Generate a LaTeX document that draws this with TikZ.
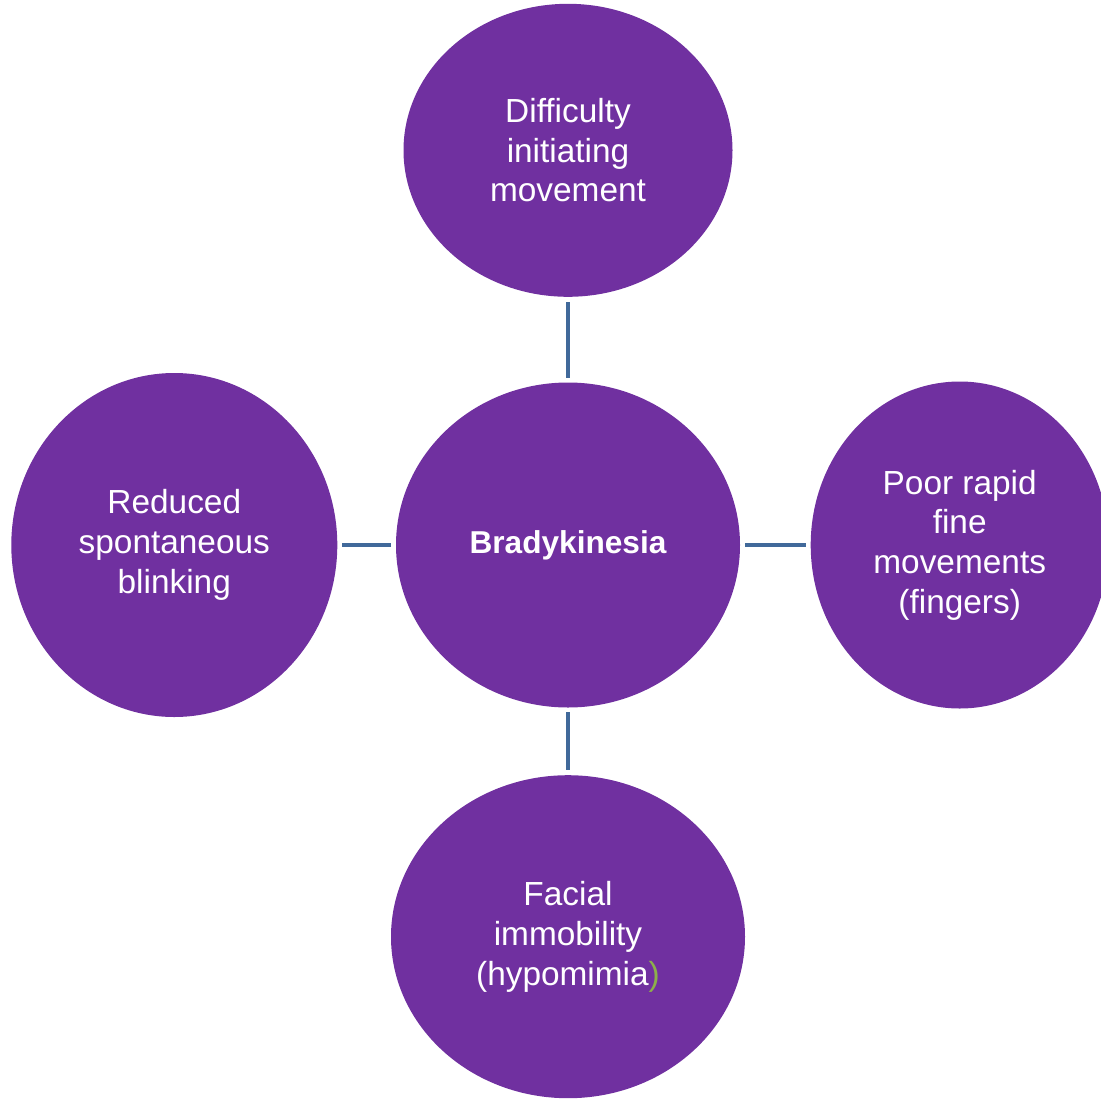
\documentclass[tikz,border=0pt]{standalone}
\usepackage{fontspec}
\setmainfont{Liberation Sans}
\usepackage{tikz}
\usetikzlibrary{shapes.geometric, positioning}

\definecolor{symptom}{HTML}{7030A0}
\definecolor{link}{HTML}{41699A}
\definecolor{paren}{HTML}{8DB04A}

\tikzset{
    bubble/.style={ellipse, fill=symptom, text=white, inner sep=0pt, align=center,
        font=\fontsize{19}{22.6}\selectfont},
    spoke/.style={draw=link, line width=2.3pt, shorten <=2.6pt, shorten >=2.6pt}
}

\begin{document}
\begin{tikzpicture}
    \clip (0,0) rectangle (22.02,-21.96);
    \useasboundingbox (0,0) rectangle (22.02,-21.96);

    \node [bubble, minimum width=6.88cm, minimum height=6.5cm, font=\fontsize{18}{22}\selectfont\bfseries] (Brady) at (11.36,-10.9) {Bradykinesia};
    \node [bubble, minimum width=6.58cm, minimum height=5.86cm, above=1.7cm of Brady] (Init) {Difficulty\\initiating\\movement};
    \node [bubble, minimum width=6.52cm, minimum height=6.88cm, left=1.16cm of Brady] (Blink) {Reduced\\spontaneous\\blinking};
    \node [bubble, minimum width=5.96cm, minimum height=6.54cm, right=1.4cm of Brady] (Fine) {Poor rapid\\fine\\movements\\(fingers)};
    \node [bubble, minimum width=7.08cm, minimum height=6.46cm, below=1.34cm of Brady] (Face) {Facial\\immobility\\(hypomimia\textcolor{paren}{)}};

    \foreach \n in {Init, Blink, Fine, Face} {
        \draw [spoke] (Brady) -- (\n);
    }
\end{tikzpicture}
\end{document}
